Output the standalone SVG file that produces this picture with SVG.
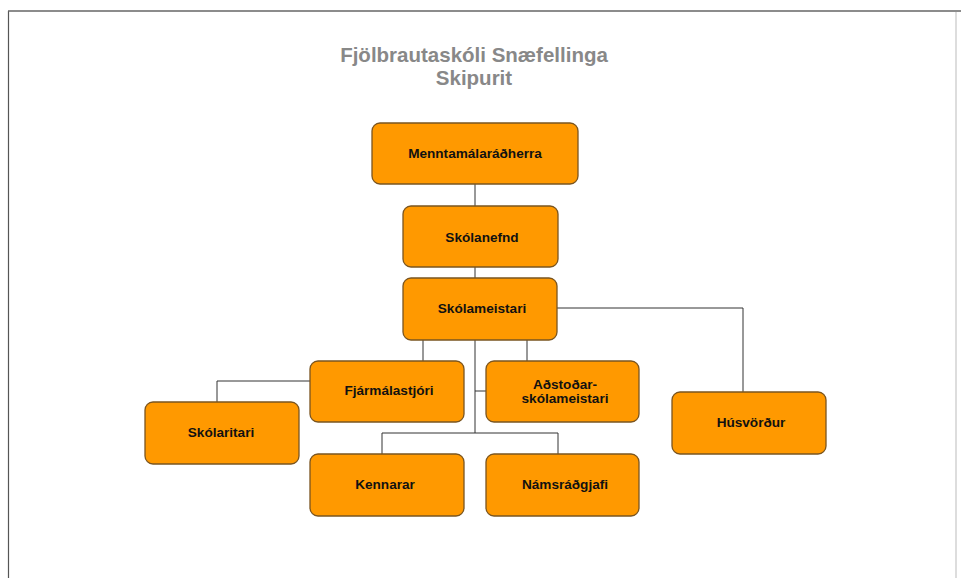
<svg xmlns="http://www.w3.org/2000/svg" width="961" height="578" viewBox="0 0 961 578">
<style>
.box{fill:#FF9900;stroke:#7A5520;stroke-width:1.3}
.lbl{font-family:"Liberation Sans",Arial,sans-serif;font-weight:bold;font-size:13.6px;fill:#111;text-anchor:middle}
.ttl{font-family:"Liberation Sans",Arial,sans-serif;font-weight:bold;font-size:20.5px;fill:#888;text-anchor:middle}
.con{fill:none;stroke:#333;stroke-width:1}
</style>
<rect width="961" height="578" fill="#fff"/>
<g id="frame">
<line x1="8.5" y1="11" x2="8.5" y2="578" stroke="#555" stroke-width="1.2"/>
<line x1="8" y1="11" x2="961" y2="11" stroke="#666" stroke-width="1.6"/>
<line x1="956" y1="12" x2="956" y2="578" stroke="#ddd" stroke-width="2"/>
</g>
<g id="title">
<text class="ttl" x="474" y="62">Fjölbrautaskóli Snæfellinga</text>
<text class="ttl" x="474" y="85">Skipurit</text>
</g>
<g id="connectors">
<path class="con" d="M475,184V206"/>
<path class="con" d="M475,267V278"/>
<path class="con" d="M557,308H743V392"/>
<path class="con" d="M423,340V361"/>
<path class="con" d="M527,340V361"/>
<path class="con" d="M475,340V433"/>
<path class="con" d="M475,391H486"/>
<path class="con" d="M382,454V433H558V454"/>
<path class="con" d="M310,381H217V402"/>
</g>
<g id="n1"><rect class="box" x="372" y="123" width="206" height="61" rx="8"/><text class="lbl" x="475" y="158">Menntamálaráðherra</text></g>
<g id="n2"><rect class="box" x="403" y="206" width="155" height="61" rx="8"/><text class="lbl" x="482" y="242">Skólanefnd</text></g>
<g id="n3"><rect class="box" x="403" y="278" width="154" height="62" rx="8"/><text class="lbl" x="482" y="313">Skólameistari</text></g>
<g id="n4"><rect class="box" x="310" y="361" width="154" height="61" rx="8"/><text class="lbl" x="389" y="395">Fjármálastjóri</text></g>
<g id="n5"><rect class="box" x="486" y="361" width="153" height="61" rx="8"/><text class="lbl" x="565" y="389">Aðstoðar-</text><text class="lbl" x="565" y="403">skólameistari</text></g>
<g id="n6"><rect class="box" x="672" y="392" width="154" height="62" rx="8"/><text class="lbl" x="751" y="427">Húsvörður</text></g>
<g id="n7"><rect class="box" x="145" y="402" width="154" height="62" rx="8"/><text class="lbl" x="221" y="437">Skólaritari</text></g>
<g id="n8"><rect class="box" x="310" y="454" width="154" height="62" rx="8"/><text class="lbl" x="385" y="489">Kennarar</text></g>
<g id="n9"><rect class="box" x="486" y="454" width="153" height="62" rx="8"/><text class="lbl" x="565" y="489">Námsráðgjafi</text></g>
</svg>
